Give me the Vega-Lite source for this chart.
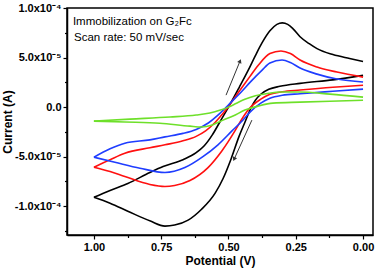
{
  "$schema": "https://vega.github.io/schema/vega-lite/v6.json",
  "width": 306,
  "height": 227,
  "autosize": {"type": "none"},
  "padding": {"left": 67, "top": 8, "right": 5, "bottom": 35},
  "background": "white",
  "config": {
    "view": {"stroke": "#000", "strokeWidth": 1.5},
    "font": "Liberation Sans"
  },
  "datasets": {
    "cv": [
      {"s":"black","seg":"f","i":1,"v":1.0,"c":-9.1e-5},
      {"s":"black","seg":"f","i":2,"v":0.94,"c":-8.4e-5},
      {"s":"black","seg":"f","i":3,"v":0.874,"c":-7.7e-5},
      {"s":"black","seg":"f","i":4,"v":0.792,"c":-6.6e-5},
      {"s":"black","seg":"f","i":5,"v":0.743,"c":-6.0e-5},
      {"s":"black","seg":"f","i":6,"v":0.669,"c":-5.3e-5},
      {"s":"black","seg":"f","i":7,"v":0.62,"c":-4.6e-5},
      {"s":"black","seg":"f","i":8,"v":0.59,"c":-3.9e-5},
      {"s":"black","seg":"f","i":9,"v":0.56,"c":-2.8e-5},
      {"s":"black","seg":"f","i":10,"v":0.53,"c":-1.4e-5},
      {"s":"black","seg":"f","i":11,"v":0.50,"c":0.0},
      {"s":"black","seg":"f","i":12,"v":0.46,"c":2.0e-5},
      {"s":"black","seg":"f","i":13,"v":0.427,"c":3.7e-5},
      {"s":"black","seg":"f","i":14,"v":0.40,"c":5.2e-5},
      {"s":"black","seg":"f","i":15,"v":0.375,"c":6.5e-5},
      {"s":"black","seg":"f","i":16,"v":0.346,"c":7.7e-5},
      {"s":"black","seg":"f","i":17,"v":0.32,"c":8.35e-5},
      {"s":"black","seg":"f","i":18,"v":0.30,"c":8.5e-5},
      {"s":"black","seg":"f","i":19,"v":0.28,"c":8.35e-5},
      {"s":"black","seg":"f","i":20,"v":0.26,"c":7.9e-5},
      {"s":"black","seg":"f","i":21,"v":0.234,"c":7.1e-5},
      {"s":"black","seg":"f","i":22,"v":0.20,"c":6.4e-5},
      {"s":"black","seg":"f","i":23,"v":0.171,"c":5.9e-5},
      {"s":"black","seg":"f","i":24,"v":0.112,"c":5.3e-5},
      {"s":"black","seg":"f","i":25,"v":0.05,"c":4.9e-5},
      {"s":"black","seg":"f","i":26,"v":0.0,"c":4.6e-5},
      {"s":"black","seg":"r","i":1,"v":0.0,"c":3.2e-5},
      {"s":"black","seg":"r","i":2,"v":0.112,"c":2.75e-5},
      {"s":"black","seg":"r","i":3,"v":0.234,"c":2.4e-5},
      {"s":"black","seg":"r","i":4,"v":0.309,"c":2.1e-5},
      {"s":"black","seg":"r","i":5,"v":0.35,"c":1.8e-5},
      {"s":"black","seg":"r","i":6,"v":0.38,"c":1.3e-5},
      {"s":"black","seg":"r","i":7,"v":0.40,"c":7e-6},
      {"s":"black","seg":"r","i":8,"v":0.415,"c":0.0},
      {"s":"black","seg":"r","i":9,"v":0.44,"c":-1.6e-5},
      {"s":"black","seg":"r","i":10,"v":0.46,"c":-2.9e-5},
      {"s":"black","seg":"r","i":11,"v":0.49,"c":-5.2e-5},
      {"s":"black","seg":"r","i":12,"v":0.52,"c":-7.2e-5},
      {"s":"black","seg":"r","i":13,"v":0.55,"c":-8.7e-5},
      {"s":"black","seg":"r","i":14,"v":0.60,"c":-1.03e-4},
      {"s":"black","seg":"r","i":15,"v":0.65,"c":-1.14e-4},
      {"s":"black","seg":"r","i":16,"v":0.70,"c":-1.19e-4},
      {"s":"black","seg":"r","i":17,"v":0.736,"c":-1.2e-4},
      {"s":"black","seg":"r","i":18,"v":0.79,"c":-1.15e-4},
      {"s":"black","seg":"r","i":19,"v":0.874,"c":-1.05e-4},
      {"s":"black","seg":"r","i":20,"v":0.94,"c":-9.7e-5},
      {"s":"black","seg":"r","i":21,"v":1.0,"c":-9.1e-5},

      {"s":"red","seg":"f","i":1,"v":1.0,"c":-6.06e-5},
      {"s":"red","seg":"f","i":2,"v":0.94,"c":-5.3e-5},
      {"s":"red","seg":"f","i":3,"v":0.885,"c":-4.65e-5},
      {"s":"red","seg":"f","i":4,"v":0.792,"c":-4.1e-5},
      {"s":"red","seg":"f","i":5,"v":0.736,"c":-3.8e-5},
      {"s":"red","seg":"f","i":6,"v":0.669,"c":-3.4e-5},
      {"s":"red","seg":"f","i":7,"v":0.62,"c":-2.95e-5},
      {"s":"red","seg":"f","i":8,"v":0.585,"c":-2.4e-5},
      {"s":"red","seg":"f","i":9,"v":0.55,"c":-1.55e-5},
      {"s":"red","seg":"f","i":10,"v":0.513,"c":-4e-6},
      {"s":"red","seg":"f","i":11,"v":0.46,"c":1.6e-5},
      {"s":"red","seg":"f","i":12,"v":0.42,"c":3.1e-5},
      {"s":"red","seg":"f","i":13,"v":0.39,"c":4.2e-5},
      {"s":"red","seg":"f","i":14,"v":0.346,"c":5.4e-5},
      {"s":"red","seg":"f","i":15,"v":0.305,"c":5.66e-5},
      {"s":"red","seg":"f","i":16,"v":0.27,"c":5.4e-5},
      {"s":"red","seg":"f","i":17,"v":0.234,"c":4.75e-5},
      {"s":"red","seg":"f","i":18,"v":0.171,"c":4.04e-5},
      {"s":"red","seg":"f","i":19,"v":0.097,"c":3.54e-5},
      {"s":"red","seg":"f","i":20,"v":0.0,"c":3.03e-5},
      {"s":"red","seg":"r","i":1,"v":0.0,"c":2.2e-5},
      {"s":"red","seg":"r","i":2,"v":0.112,"c":2.0e-5},
      {"s":"red","seg":"r","i":3,"v":0.234,"c":1.72e-5},
      {"s":"red","seg":"r","i":4,"v":0.30,"c":1.55e-5},
      {"s":"red","seg":"r","i":5,"v":0.346,"c":1.3e-5},
      {"s":"red","seg":"r","i":6,"v":0.38,"c":8e-6},
      {"s":"red","seg":"r","i":7,"v":0.41,"c":2e-6},
      {"s":"red","seg":"r","i":8,"v":0.43,"c":-4e-6},
      {"s":"red","seg":"r","i":9,"v":0.45,"c":-1.2e-5},
      {"s":"red","seg":"r","i":10,"v":0.476,"c":-2.4e-5},
      {"s":"red","seg":"r","i":11,"v":0.524,"c":-4.4e-5},
      {"s":"red","seg":"r","i":12,"v":0.576,"c":-6.1e-5},
      {"s":"red","seg":"r","i":13,"v":0.643,"c":-7.4e-5},
      {"s":"red","seg":"r","i":14,"v":0.70,"c":-7.9e-5},
      {"s":"red","seg":"r","i":15,"v":0.736,"c":-8.0e-5},
      {"s":"red","seg":"r","i":16,"v":0.792,"c":-7.8e-5},
      {"s":"red","seg":"r","i":17,"v":0.885,"c":-7.0e-5},
      {"s":"red","seg":"r","i":18,"v":0.94,"c":-6.5e-5},
      {"s":"red","seg":"r","i":19,"v":1.0,"c":-6.06e-5},

      {"s":"blue","seg":"f","i":1,"v":1.0,"c":-5.05e-5},
      {"s":"blue","seg":"f","i":2,"v":0.94,"c":-4.2e-5},
      {"s":"blue","seg":"f","i":3,"v":0.885,"c":-3.64e-5},
      {"s":"blue","seg":"f","i":4,"v":0.792,"c":-3.3e-5},
      {"s":"blue","seg":"f","i":5,"v":0.736,"c":-3.0e-5},
      {"s":"blue","seg":"f","i":6,"v":0.669,"c":-2.65e-5},
      {"s":"blue","seg":"f","i":7,"v":0.62,"c":-2.25e-5},
      {"s":"blue","seg":"f","i":8,"v":0.575,"c":-1.6e-5},
      {"s":"blue","seg":"f","i":9,"v":0.535,"c":-7e-6},
      {"s":"blue","seg":"f","i":10,"v":0.49,"c":5e-6},
      {"s":"blue","seg":"f","i":11,"v":0.45,"c":1.6e-5},
      {"s":"blue","seg":"f","i":12,"v":0.42,"c":2.5e-5},
      {"s":"blue","seg":"f","i":13,"v":0.375,"c":3.74e-5},
      {"s":"blue","seg":"f","i":14,"v":0.346,"c":4.45e-5},
      {"s":"blue","seg":"f","i":15,"v":0.301,"c":4.75e-5},
      {"s":"blue","seg":"f","i":16,"v":0.27,"c":4.5e-5},
      {"s":"blue","seg":"f","i":17,"v":0.234,"c":3.94e-5},
      {"s":"blue","seg":"f","i":18,"v":0.171,"c":3.33e-5},
      {"s":"blue","seg":"f","i":19,"v":0.097,"c":2.83e-5},
      {"s":"blue","seg":"f","i":20,"v":0.0,"c":2.53e-5},
      {"s":"blue","seg":"r","i":1,"v":0.0,"c":1.82e-5},
      {"s":"blue","seg":"r","i":2,"v":0.112,"c":1.6e-5},
      {"s":"blue","seg":"r","i":3,"v":0.234,"c":1.35e-5},
      {"s":"blue","seg":"r","i":4,"v":0.30,"c":1.2e-5},
      {"s":"blue","seg":"r","i":5,"v":0.346,"c":9e-6},
      {"s":"blue","seg":"r","i":6,"v":0.38,"c":4e-6},
      {"s":"blue","seg":"r","i":7,"v":0.42,"c":-5e-6},
      {"s":"blue","seg":"r","i":8,"v":0.446,"c":-1.3e-5},
      {"s":"blue","seg":"r","i":9,"v":0.487,"c":-2.4e-5},
      {"s":"blue","seg":"r","i":10,"v":0.539,"c":-3.8e-5},
      {"s":"blue","seg":"r","i":11,"v":0.595,"c":-5.0e-5},
      {"s":"blue","seg":"r","i":12,"v":0.662,"c":-6.1e-5},
      {"s":"blue","seg":"r","i":13,"v":0.736,"c":-6.6e-5},
      {"s":"blue","seg":"r","i":14,"v":0.829,"c":-6.16e-5},
      {"s":"blue","seg":"r","i":15,"v":0.922,"c":-5.56e-5},
      {"s":"blue","seg":"r","i":16,"v":1.0,"c":-5.05e-5},

      {"s":"green","seg":"f","i":1,"v":1.0,"c":-1.41e-5},
      {"s":"green","seg":"f","i":2,"v":0.866,"c":-1.21e-5},
      {"s":"green","seg":"f","i":3,"v":0.717,"c":-1.0e-5},
      {"s":"green","seg":"f","i":4,"v":0.62,"c":-8e-6},
      {"s":"green","seg":"f","i":5,"v":0.569,"c":-6e-6},
      {"s":"green","seg":"f","i":6,"v":0.53,"c":-3e-6},
      {"s":"green","seg":"f","i":7,"v":0.50,"c":0.0},
      {"s":"green","seg":"f","i":8,"v":0.47,"c":4e-6},
      {"s":"green","seg":"f","i":9,"v":0.439,"c":8e-6},
      {"s":"green","seg":"f","i":10,"v":0.40,"c":1.15e-5},
      {"s":"green","seg":"f","i":11,"v":0.35,"c":1.4e-5},
      {"s":"green","seg":"f","i":12,"v":0.309,"c":1.52e-5},
      {"s":"green","seg":"f","i":13,"v":0.234,"c":1.52e-5},
      {"s":"green","seg":"f","i":14,"v":0.123,"c":1.31e-5},
      {"s":"green","seg":"f","i":15,"v":0.0,"c":1.01e-5},
      {"s":"green","seg":"r","i":1,"v":0.0,"c":7e-6},
      {"s":"green","seg":"r","i":2,"v":0.123,"c":6e-6},
      {"s":"green","seg":"r","i":3,"v":0.234,"c":5e-6},
      {"s":"green","seg":"r","i":4,"v":0.335,"c":4e-6},
      {"s":"green","seg":"r","i":5,"v":0.39,"c":1e-6},
      {"s":"green","seg":"r","i":6,"v":0.439,"c":-3e-6},
      {"s":"green","seg":"r","i":7,"v":0.483,"c":-9e-6},
      {"s":"green","seg":"r","i":8,"v":0.52,"c":-1.31e-5},
      {"s":"green","seg":"r","i":9,"v":0.56,"c":-1.8e-5},
      {"s":"green","seg":"r","i":10,"v":0.60,"c":-2.0e-5},
      {"s":"green","seg":"r","i":11,"v":0.643,"c":-1.92e-5},
      {"s":"green","seg":"r","i":12,"v":0.755,"c":-1.62e-5},
      {"s":"green","seg":"r","i":13,"v":0.885,"c":-1.5e-5},
      {"s":"green","seg":"r","i":14,"v":1.0,"c":-1.41e-5}
    ],
    "notes": [
      {"t":"Immobilization on G₂Fc","v":1.078,"c":8.28e-5},
      {"t":"Scan rate: 50 mV/sec","v":1.074,"c":6.67e-5}
    ],
    "arrows": [
      {"a":1,"v1":0.509,"c1":1.21e-5,"v2":0.457,"c2":4.65e-5},
      {"a":2,"v1":0.413,"c1":-1.31e-5,"v2":0.479,"c2":-5.25e-5}
    ]
  },
  "layer": [
    {
      "data": {"name": "cv"},
      "mark": {"type": "line", "strokeWidth": 1.6, "interpolate": "monotone"},
      "encoding": {
        "x": {
          "field": "v", "type": "quantitative",
          "scale": {"domain": [-0.037, 1.1], "reverse": true, "nice": false, "zero": false},
          "axis": {
            "orient": "bottom", "values": [0, 0.25, 0.5, 0.75, 1], "format": ".2f",
            "title": "Potential (V)", "grid": false,
            "labelFont": "Liberation Sans", "labelFontWeight": "bold", "labelFontSize": 11, "labelColor": "#000",
            "titleFont": "Liberation Sans", "titleFontWeight": "bold", "titleFontSize": 12, "titleColor": "#000",
            "tickColor": "#000", "tickSize": 4, "tickWidth": 1.2,
            "domainColor": "#000", "domainWidth": 1.5,
            "labelPadding": 2, "titlePadding": 3, "labelFlush": false
          }
        },
        "y": {
          "field": "c", "type": "quantitative",
          "scale": {"domain": [-0.000129, 0.0001], "nice": false, "zero": false},
          "axis": {
            "orient": "left", "values": [-0.0001, -0.00005, 0, 0.00005, 0.0001],
            "labelExpr": "datum.value == 0 ? '0.0' : datum.value > 0.00009 ? '1.0x10⁻⁴' : datum.value > 0.00004 ? '5.0x10⁻⁵' : datum.value < -0.00009 ? '-1.0x10⁻⁴' : '-5.0x10⁻⁵'",
            "title": "Current (A)", "grid": false,
            "labelFont": "Liberation Sans", "labelFontWeight": "bold", "labelFontSize": 11, "labelColor": "#000",
            "titleFont": "Liberation Sans", "titleFontWeight": "bold", "titleFontSize": 12, "titleColor": "#000",
            "titleX": -60, "titleY": 113.5, "titleAngle": 270, "titleAlign": "center", "titleBaseline": "middle",
            "tickColor": "#000", "tickSize": 4, "tickWidth": 1.2,
            "domainColor": "#000", "domainWidth": 1.5,
            "labelPadding": 2, "labelFlush": false
          }
        },
        "color": {
          "field": "s", "type": "nominal",
          "scale": {"domain": ["black", "red", "blue", "green"], "range": ["#000000", "#ff1010", "#1f3dff", "#6ee02a"]},
          "legend": null
        },
        "detail": {"field": "seg"},
        "order": {"field": "i", "type": "quantitative"}
      }
    },
    {
      "data": {"name": "arrows"},
      "mark": {"type": "rule", "color": "#333333", "strokeWidth": 1},
      "encoding": {
        "x": {"field": "v1", "type": "quantitative", "axis": null},
        "y": {"field": "c1", "type": "quantitative", "axis": null},
        "x2": {"field": "v2"},
        "y2": {"field": "c2"}
      }
    },
    {
      "data": {"name": "arrows"},
      "transform": [{"filter": "datum.a == 1"}],
      "mark": {"type": "point", "shape": "triangle-up", "filled": true, "size": 22, "color": "#333333", "opacity": 1, "angle": 22},
      "encoding": {
        "x": {"field": "v2", "type": "quantitative", "axis": null},
        "y": {"field": "c2", "type": "quantitative", "axis": null}
      }
    },
    {
      "data": {"name": "arrows"},
      "transform": [{"filter": "datum.a == 2"}],
      "mark": {"type": "point", "shape": "triangle-up", "filled": true, "size": 22, "color": "#333333", "opacity": 1, "angle": 204},
      "encoding": {
        "x": {"field": "v2", "type": "quantitative", "axis": null},
        "y": {"field": "c2", "type": "quantitative", "axis": null}
      }
    },
    {
      "data": {"name": "notes"},
      "mark": {"type": "text", "align": "left", "baseline": "alphabetic", "font": "Liberation Sans", "fontSize": 11.5, "color": "#000"},
      "encoding": {
        "x": {
          "field": "v", "type": "quantitative",
          "axis": {"orient": "bottom", "values": [0.125, 0.375, 0.625, 0.875], "labels": false, "domain": false, "grid": false, "title": null, "tickColor": "#000", "tickSize": 2.5, "tickWidth": 1.2}
        },
        "y": {
          "field": "c", "type": "quantitative",
          "axis": {"orient": "left", "values": [-0.000125, -0.000075, -0.000025, 0.000025, 0.000075], "labels": false, "domain": false, "grid": false, "title": null, "tickColor": "#000", "tickSize": 2.5, "tickWidth": 1.2}
        },
        "text": {"field": "t"}
      }
    }
  ],
  "resolve": {"axis": {"x": "independent", "y": "independent"}}
}
